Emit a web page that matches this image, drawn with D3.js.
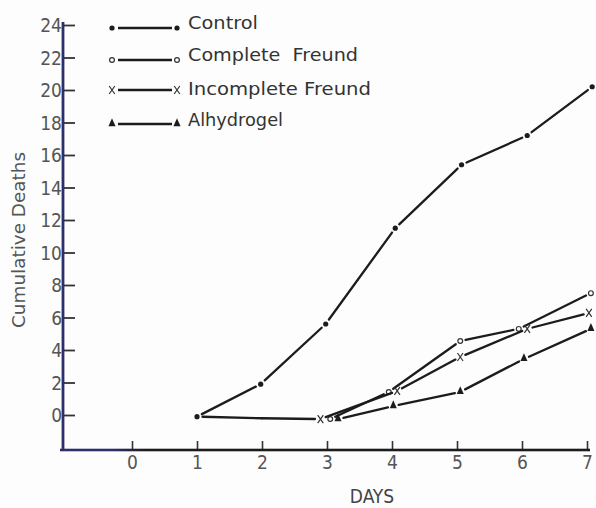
<!DOCTYPE html>
<html>
<head>
<meta charset="utf-8">
<script src="https://cdn.jsdelivr.net/npm/d3@7/dist/d3.min.js"></script>
<style>
  html, body { margin: 0; padding: 0; background: #fdfdfd; }
  svg { display: block; }
</style>
</head>
<body>
<svg id="chart" width="596" height="508"></svg>
<script>
// ---- data ----
const seriesNames = ["Control", "Complete  Freund", "Incomplete Freund", "Alhydrogel"];
const xTickValues = [0, 1, 2, 3, 4, 5, 6, 7];
const yTickValues = [0, 2, 4, 6, 8, 10, 12, 14, 16, 18, 20, 22, 24];

// plotted day positions (markers are drawn slightly side by side where they coincide)
const controlDays    = [1, 1.98, 2.98, 4.05, 5.07, 6.08, 7.08];
const controlDeaths  = [-0.1, 1.9, 5.6, 11.5, 15.4, 17.2, 20.2];

const completeDays   = [1, 2, 3.05, 3.95, 5.05, 5.95, 7.06];
const completeDeaths = [-0.1, -0.2, -0.25, 1.42, 4.55, 5.3, 7.5];

const incompleteDays   = [1, 2, 2.9, 4.08, 5.05, 6.08, 7.03];
const incompleteDeaths = [-0.1, -0.2, -0.25, 1.48, 3.57, 5.3, 6.28];

const alhyDays   = [1, 2, 3.17, 4.02, 5.05, 6.03, 7.06];
const alhyDeaths = [-0.1, -0.2, -0.25, 0.55, 1.42, 3.45, 5.3];

// ---- drawing ----
const svg = d3.select("#chart");
const ink = "#1c1c1c";
const navy = "#2c2f6a";
const fontTick = "'DejaVu Sans Condensed', 'DejaVu Sans', sans-serif";

const x = d3.scaleLinear().domain([0, 7]).range([132, 587]);
const y = d3.scaleLinear().domain([0, 24]).range([415, 25]);

const axisX0 = x.invert(60);     // left end of horizontal axis
const axisY0 = y.invert(450);    // level of horizontal axis
const axisXEnd = x.invert(590);
const axisYTop = y.invert(22);

// gradient for x axis (navy at left then black)
const defs = svg.append("defs");
const grad = defs.append("linearGradient").attr("id", "xg").attr("x1", "0").attr("x2", "1");
grad.append("stop").attr("offset", "0").attr("stop-color", navy);
grad.append("stop").attr("offset", "0.1").attr("stop-color", navy);
grad.append("stop").attr("offset", "0.16").attr("stop-color", ink);
grad.append("stop").attr("offset", "1").attr("stop-color", ink);

// y axis
const yAxis = d3.axisLeft(y).tickValues(yTickValues).tickFormat(d3.format("d"))
  .tickSizeInner(-11).tickSizeOuter(0).tickPadding(2);
const gy = svg.append("g").attr("transform", `translate(${x(axisX0) + 4},0)`).call(yAxis);
gy.select(".domain").remove();
gy.selectAll(".tick line").attr("stroke", "#333").attr("stroke-width", 1.8);
gy.selectAll(".tick text").attr("font-family", fontTick).attr("font-size", 19)
  .attr("fill", "#555").attr("dy", "0.36em");

svg.append("line")
  .attr("x1", x(axisX0) + 3).attr("x2", x(axisX0) + 3)
  .attr("y1", y(axisYTop)).attr("y2", y(axisY0) + 1)
  .attr("stroke", navy).attr("stroke-width", 2.8);

// x axis
const xAxis = d3.axisBottom(x).tickValues(xTickValues).tickFormat(d3.format("d"))
  .tickSizeInner(-9).tickSizeOuter(0).tickPadding(6);
const gx = svg.append("g").attr("transform", `translate(0,${y(axisY0)})`).call(xAxis);
gx.select(".domain").remove();
gx.selectAll(".tick line").attr("stroke", "#333").attr("stroke-width", 1.6);
gx.selectAll(".tick text").attr("font-family", fontTick).attr("font-size", 19)
  .attr("fill", "#555");

svg.append("rect")
  .attr("x", x(axisX0)).attr("y", y(axisY0) - 1.3)
  .attr("width", x(axisXEnd) - x(axisX0)).attr("height", 2.6)
  .attr("fill", "url(#xg)");

// axis titles
svg.append("text")
  .attr("transform", `translate(25,240) rotate(-90)`)
  .attr("text-anchor", "middle")
  .attr("font-family", fontTick).attr("font-size", 18).attr("fill", "#555")
  .attr("textLength", 176).attr("lengthAdjust", "spacingAndGlyphs")
  .text("Cumulative  Deaths");

svg.append("text")
  .attr("x", 372).attr("y", 503)
  .attr("text-anchor", "middle")
  .attr("font-family", fontTick).attr("font-size", 19).attr("fill", "#444")
  .text("DAYS");

// markers
function drawMarker(g, type, cx, cy) {
  if (type === "dot") {
    g.append("circle").attr("cx", cx).attr("cy", cy).attr("r", 2.6).attr("fill", ink);
  } else if (type === "ring") {
    g.append("circle").attr("cx", cx).attr("cy", cy).attr("r", 2.4)
      .attr("fill", "#fdfdfd").attr("stroke", "#333").attr("stroke-width", 1.2);
  } else if (type === "cross") {
    g.append("path")
      .attr("d", `M${cx - 2.8},${cy - 4}L${cx + 2.8},${cy + 4}M${cx + 2.8},${cy - 4}L${cx - 2.8},${cy + 4}`)
      .attr("stroke", "#333").attr("stroke-width", 1.2).attr("fill", "none");
  } else if (type === "tri") {
    g.append("path")
      .attr("d", d3.symbol(d3.symbolTriangle, 30)())
      .attr("transform", `translate(${cx},${cy - 0.5}) scale(0.85,1.1)`)
      .attr("fill", ink);
  }
}

// series definitions: firstMark = first index that gets its own marker,
// firstSeg = first segment drawn (earlier segments coincide with another series)
const series = [
  { days: controlDays,    vals: controlDeaths,    marker: "dot",   firstMark: 0, firstSeg: 0 },
  { days: completeDays,   vals: completeDeaths,   marker: "ring",  firstMark: 2, firstSeg: 2 },
  { days: incompleteDays, vals: incompleteDeaths, marker: "cross", firstMark: 2, firstSeg: 0 },
  { days: alhyDays,       vals: alhyDeaths,       marker: "tri",   firstMark: 2, firstSeg: 2 }
];

const gData = svg.append("g");
series.forEach(s => {
  const pts = s.days.map((d, i) => [x(d), y(s.vals[i])]);
  for (let i = s.firstSeg; i < pts.length - 1; i++) {
    const p1 = pts[i], p2 = pts[i + 1];
    const dx = p2[0] - p1[0], dy = p2[1] - p1[1];
    const len = Math.hypot(dx, dy);
    const ux = dx / len, uy = dy / len;
    const startGap = (i === 0 && s.firstMark > 0) ? 5.5 : ((i >= s.firstMark) ? 5.5 : 0);
    const endGap = (i + 1 >= s.firstMark) ? 5.5 : 0;
    if (len > startGap + endGap) {
      gData.append("line")
        .attr("x1", p1[0] + ux * startGap).attr("y1", p1[1] + uy * startGap)
        .attr("x2", p2[0] - ux * endGap).attr("y2", p2[1] - uy * endGap)
        .attr("stroke", ink).attr("stroke-width", 2.3).attr("stroke-linecap", "round");
    }
  }
  pts.forEach((p, i) => { if (i >= s.firstMark) drawMarker(gData, s.marker, p[0], p[1]); });
});

// legend
const legendRows = [28, 60, 90, 124];
const legendBase = [29, 61, 95, 126];
const legendLens = [70, 170, 183, 95];
const gLeg = svg.append("g");
series.forEach((s, i) => {
  const ly = legendRows[i];
  drawMarker(gLeg, s.marker, 112, ly);
  gLeg.append("line").attr("x1", 118).attr("x2", 172).attr("y1", ly).attr("y2", ly)
    .attr("stroke", ink).attr("stroke-width", 2.5);
  drawMarker(gLeg, s.marker, 177, ly);
  gLeg.append("text")
    .attr("x", 188).attr("y", legendBase[i])
    .attr("font-family", "'DejaVu Sans', sans-serif").attr("font-size", 18)
    .attr("fill", "#333")
    .attr("textLength", legendLens[i]).attr("lengthAdjust", "spacingAndGlyphs")
    .attr("xml:space", "preserve")
    .style("white-space", "pre")
    .text(seriesNames[i]);
});
</script>
</body>
</html>
